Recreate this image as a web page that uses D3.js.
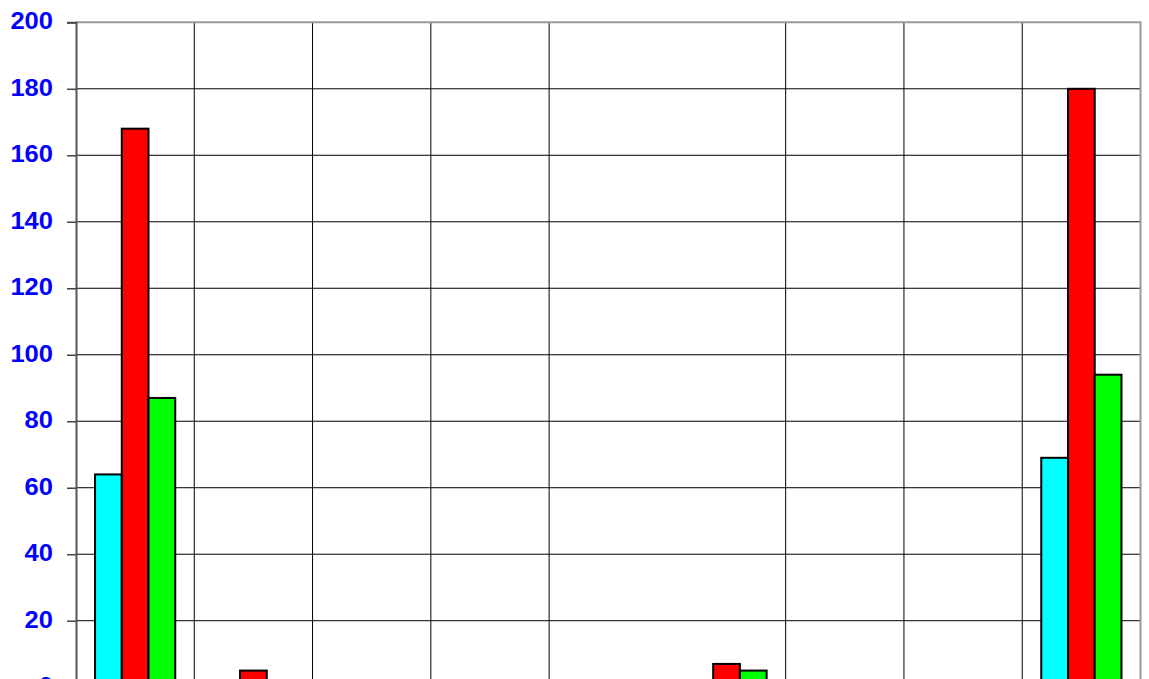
<!DOCTYPE html>
<html>
<head>
<meta charset="utf-8">
<script src="https://cdn.jsdelivr.net/npm/d3@7"></script>
<style>
  html, body { margin: 0; padding: 0; background: #fff; overflow: hidden; }
  svg { display: block; }
</style>
</head>
<body>
<div id="chart"></div>
<script>
var categories = ["1", "2", "3", "4", "5", "6", "7", "8", "9"];
var seriesNames = ["Series 1", "Series 2", "Series 3"];
var series1 = [64, 0, 0, 0, 0, 0, 0, 0, 69];
var series2 = [168, 5, 0, 0, 0, 7, 0, 0, 180];
var series3 = [87, 0, 0, 0, 0, 5, 0, 0, 94];
var yTicks = [0, 20, 40, 60, 80, 100, 120, 140, 160, 180, 200];
var colors = ["#00ffff", "#ff0000", "#00ff00"];

var margin = {top: 22.3, right: 8, bottom: 0, left: 76},
    width = 1140.5 - margin.left,
    height = 687.2 - margin.top;

var svg = d3.select("#chart").append("svg")
    .attr("width", 1149)
    .attr("height", 679)
    .append("g")
    .attr("transform", "translate(" + margin.left + "," + margin.top + ")");

var x0 = d3.scaleBand().domain(categories).range([0, width]).padding(0);
var x1 = d3.scaleBand().domain(seriesNames)
    .range([0, x0.bandwidth()])
    .paddingInner(0)
    .paddingOuter(0.7125);
var y = d3.scaleLinear().domain([0, 200]).range([height, 0]);

var allSeries = [series1, series2, series3];
var data = categories.map(function(c, i) {
    return {cat: c, values: seriesNames.map(function(s, j) {
        return {name: s, value: allSeries[j][i], color: colors[j]};
    })};
});

// horizontal gridlines
svg.append("g")
    .selectAll("line").data(yTicks.filter(function(t) { return t > 0 && t < 200; }))
    .enter().append("line")
    .attr("x1", 0).attr("x2", width)
    .attr("y1", function(d) { return y(d); })
    .attr("y2", function(d) { return y(d); })
    .attr("stroke", "#000")
    .attr("stroke-width", 1);

// vertical gridlines at category boundaries (the one after category 5 is absent)
svg.append("g")
    .selectAll("line").data(categories.slice(1).filter(function(c, i) { return i !== 4; }))
    .enter().append("line")
    .attr("x1", function(d) { return x0(d); })
    .attr("x2", function(d) { return x0(d); })
    .attr("y1", 0).attr("y2", height)
    .attr("stroke", "#000")
    .attr("stroke-width", 1);

// plot border top/right
svg.append("path")
    .attr("d", "M0,0H" + width + "V" + height)
    .attr("fill", "none")
    .attr("stroke", "#9a9a9a")
    .attr("stroke-width", 2);

// bars
var groups = svg.append("g").selectAll("g").data(data)
    .enter().append("g")
    .attr("transform", function(d) { return "translate(" + x0(d.cat) + ",0)"; });

groups.selectAll("rect")
    .data(function(d) { return d.values.filter(function(v) { return v.value > 0; }); })
    .enter().append("rect")
    .attr("x", function(d) { return x1(d.name); })
    .attr("y", function(d) { return y(d.value); })
    .attr("width", x1.bandwidth())
    .attr("height", function(d) { return height - y(d.value); })
    .attr("fill", function(d) { return d.color; })
    .attr("stroke", "#000")
    .attr("stroke-width", 2);

// y axis
var yAxis = d3.axisLeft(y)
    .tickValues(yTicks)
    .tickSize(9)
    .tickPadding(14);

var ya = svg.append("g").call(yAxis);
ya.select(".domain").attr("stroke", "#555").attr("stroke-width", 2);
ya.selectAll(".tick line").attr("stroke", "#444").attr("stroke-width", 1.5);
ya.selectAll(".tick text")
    .attr("fill", "#0000ff")
    .attr("dy", "0.28em")
    .attr("textLength", function(d) { return String(d).length * 14.2; })
    .attr("lengthAdjust", "spacingAndGlyphs")
    .style("font-family", "'Liberation Sans', Arial, sans-serif")
    .style("font-weight", "bold")
    .style("font-size", "23px");
</script>
</body>
</html>
